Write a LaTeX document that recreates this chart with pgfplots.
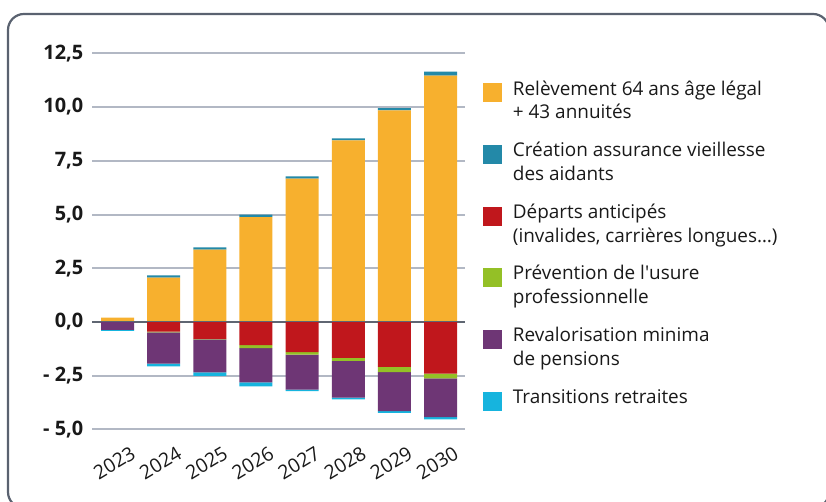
\documentclass[border=0pt]{standalone}
\usepackage{pgfplots}
\usepackage{pgfplotstable}
\pgfplotsset{compat=1.18}
\usepackage{fontspec}
\setmainfont{Open Sans}
\definecolor{cOrange}{RGB}{247,176,46}
\definecolor{cTeal}{RGB}{35,137,168}
\definecolor{cRed}{RGB}{192,23,28}
\definecolor{cGreen}{RGB}{148,192,38}
\definecolor{cPurple}{RGB}{110,54,117}
\definecolor{cCyan}{RGB}{22,180,222}
\definecolor{cGrid}{RGB}{178,184,196}
\definecolor{cZero}{RGB}{95,102,114}
\definecolor{cFrame}{RGB}{90,98,112}
\definecolor{cText}{RGB}{25,25,25}
\pgfplotstableread{
x orange teal red green purple cyan
0 0.20 0.00 0.00 0.00 -0.37 -0.04
1 2.07 0.10 -0.45 -0.03 -1.46 -0.12
2 3.37 0.10 -0.78 -0.03 -1.53 -0.17
3 4.88 0.12 -1.08 -0.14 -1.59 -0.19
4 6.67 0.11 -1.40 -0.12 -1.62 -0.07
5 8.45 0.09 -1.67 -0.14 -1.71 -0.08
6 9.85 0.10 -2.09 -0.24 -1.81 -0.09
7 11.46 0.19 -2.40 -0.22 -1.81 -0.10
}\datatable
\begin{document}
\begin{tikzpicture}[x=1bp,y=1bp]
\useasboundingbox (0,0) rectangle (826,502);
\draw[cFrame, line width=2.2bp, rounded corners=16bp] (8,-6) rectangle (829,488);
\pgfplotsset{
  base/.style={
    at={(92bp,72.5bp)}, anchor=south west, scale only axis,
    width=373bp, height=376.2bp,
    xmin=-0.553, xmax=7.53, ymin=-5, ymax=12.5,
    axis line style={draw=none}, major tick length=0pt,
    ybar stacked, bar width=33bp,
  }
}
\begin{axis}[base,
    ytick={-5,-2.5,0,2.5,5,7.5,10,12.5},
    yticklabels={{- 5,0},{- 2,5},{0,0},{2,5},{5,0},{7,5},{10,0},{12,5}},
    xtick={0,...,7},
    xticklabels={2023,2024,2025,2026,2027,2028,2029,2030},
    ymajorgrids, grid style={cGrid, line width=2bp},
    yticklabel style={font=\fontsize{20}{24}\selectfont\bfseries, text=cText, anchor=east, inner sep=0pt, xshift=-8.5bp},
    xticklabel style={font=\fontsize{19.5}{24}\selectfont, text=cText, inner sep=0pt, xshift=16bp, yshift=-22bp, rotate=31, anchor=east},
  ]
\addplot[fill=cOrange, draw=none] table[x=x, y=orange] {\datatable};
\addplot[fill=cTeal, draw=none] table[x=x, y=teal] {\datatable};
\end{axis}
\begin{axis}[base, xtick=\empty, ytick=\empty,
    legend cell align=left,
    legend style={at={(1.0475,0.934)}, anchor=north west, draw=none, fill=none,
      inner sep=0pt, font=\fontsize{19}{24}\selectfont, text=cText,
      cells={align=left}, nodes={inner sep=0pt}, column sep=11bp, row sep=19.5bp},
    legend image code/.code={\fill[#1] (0bp,-3bp) rectangle (19bp,16bp);},
  ]
\addlegendimage{fill=cOrange, draw=none}
\addlegendentry{\strut Relèvement 64 ans âge légal\\+ 43 annuités\strut}
\addlegendimage{fill=cTeal, draw=none}
\addlegendentry{\strut Création assurance vieillesse\\des aidants\strut}
\addplot[fill=cRed, draw=none] table[x=x, y=red] {\datatable};
\addlegendentry{\strut Départs anticipés\\(invalides, carrières longues…)\strut}
\addplot[fill=cGreen, draw=none] table[x=x, y=green] {\datatable};
\addlegendentry{\strut Prévention de l\textquotesingle usure\\professionnelle\strut}
\addplot[fill=cPurple, draw=none] table[x=x, y=purple] {\datatable};
\addlegendentry{\strut Revalorisation minima\\de pensions\strut}
\addplot[fill=cCyan, draw=none] table[x=x, y=cyan] {\datatable};
\addlegendentry{\strut Transitions retraites\\\strut}
\draw[cZero, line width=2.5bp] (axis cs:-0.553,0) -- (axis cs:7.53,0);
\end{axis}
\end{tikzpicture}
\end{document}
